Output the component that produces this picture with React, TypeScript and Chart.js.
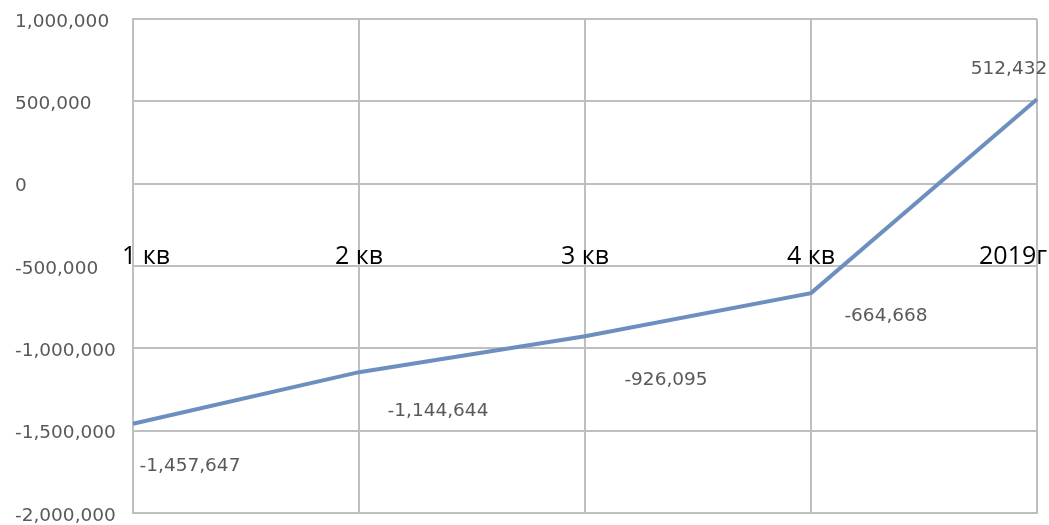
import React, { useEffect, useRef } from "react";
import { Chart, registerables } from "chart.js";

Chart.register(...registerables);

const categories = ["1 кв", "2 кв", "3 кв", "4 кв", "2019г"];
const values = [-1457647, -1144644, -926095, -664668, 512432];
const yMin = -2000000;
const yMax = 1000000;
const yStep = 500000;
const categoryLabelLevel = -500000;

const fmt = (v: number) => v.toLocaleString("en-US");

// label placement offsets (dx of text centre, dy of text middle) relative to each point
const labelDX = [57, 79, 81, 75, -28];
const labelDY = [42, 39, 44, 23, -30];

const labelsPlugin = {
  id: "customLabels",
  afterDatasetsDraw(chart: any) {
    const ctx = chart.ctx;
    const meta = chart.getDatasetMeta(0);
    const xs = chart.scales.x;
    const ys = chart.scales.y;
    ctx.save();
    // data labels
    ctx.font = "18.5px 'DejaVu Sans'";
    ctx.fillStyle = "#595959";
    ctx.textAlign = "center";
    ctx.textBaseline = "middle";
    meta.data.forEach((pt: any, i: number) => {
      ctx.fillText(fmt(values[i]), pt.x + labelDX[i], pt.y + labelDY[i]);
    });
    // category labels
    ctx.font = "25px 'Open Sans'";
    ctx.fillStyle = "#000000";
    ctx.textBaseline = "alphabetic";
    const baseY = ys.getPixelForValue(categoryLabelLevel) - 2;
    const area = chart.chartArea;
    categories.forEach((c, i) => {
      const px = xs.getPixelForValue(i);
      const w = ctx.measureText(c).width;
      let cx = px;
      cx = Math.max(area.left - 11 + w / 2, cx);
      cx = Math.min(area.right + 10 - w / 2, cx);
      ctx.textAlign = "center";
      ctx.fillText(c, cx, baseY);
    });
    ctx.restore();
  },
};

export default function App() {
  const ref = useRef<HTMLCanvasElement | null>(null);
  useEffect(() => {
    document.body.style.margin = "0";
    const chart = new Chart(ref.current as HTMLCanvasElement, {
      type: "line",
      data: {
        labels: categories,
        datasets: [
          {
            data: values,
            borderColor: "#6d8fbf",
            borderWidth: 4,
            pointRadius: 0,
            tension: 0,
            fill: false,
          },
        ],
      },
      options: {
        animation: false,
        responsive: true,
        maintainAspectRatio: false,
        layout: { padding: { left: 15, top: 19, right: 12, bottom: 12 } },
        plugins: { legend: { display: false }, tooltip: { enabled: false } },
        scales: {
          x: {
            type: "category",
            offset: false,
            ticks: { display: false },
            grid: { color: "#bfbfbf", lineWidth: 2, drawTicks: false },
            border: { color: "#bfbfbf", width: 2 },
          },
          y: {
            min: yMin,
            max: yMax,
            ticks: {
              stepSize: yStep,
              color: "#595959",
              font: { family: "'DejaVu Sans'", size: 18.5 },
              crossAlign: "far",
              padding: 0,
              labelOffset: 3,
              callback: (v: any) => fmt(Number(v)),
            },
            grid: { color: "#bfbfbf", lineWidth: 2, drawTicks: false },
            border: { color: "#bfbfbf", width: 2 },
            afterFit: (axis: any) => {
              axis.width = 118;
            },
          },
        },
      },
      plugins: [labelsPlugin],
    });
    return () => chart.destroy();
  }, []);
  return (
    <div style={{ width: 1049, height: 525, position: "relative" }}>
      <canvas ref={ref} />
    </div>
  );
}
